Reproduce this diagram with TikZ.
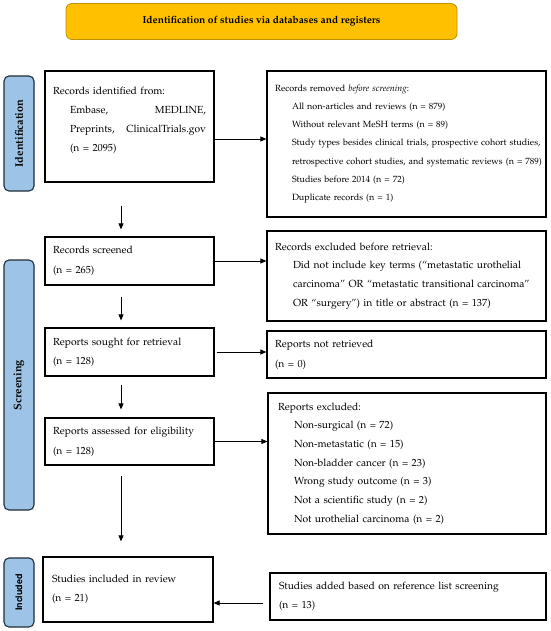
\documentclass[tikz,border=0pt]{standalone}
\usepackage[T1]{fontenc}
\usepackage{mathpazo}
\usepackage[scaled=0.92]{helvet}
\usetikzlibrary{arrows.meta}
\definecolor{bannerfill}{HTML}{FFC000}
\definecolor{bannerdraw}{HTML}{BF9000}
\definecolor{phasefill}{HTML}{9DC3E6}
\definecolor{phasedraw}{HTML}{1F2D3A}
\newcommand\ind[1]{\hspace*{17pt}\mbox{#1}}
\tikzset{
  box/.style={draw=black, line width=1.2pt, inner xsep=8pt, inner ysep=0pt, align=left,
    font=\fontsize{10.3}{19}\selectfont},
  phase/.style={draw=phasedraw, fill=phasefill, line width=1.1pt, rounded corners=5pt,
    inner sep=0pt, rotate=90, minimum height=30pt, font=\fontsize{11}{12}\selectfont\bfseries},
  banner/.style={draw=bannerdraw, fill=bannerfill, line width=0.8pt, rounded corners=6pt,
    minimum width=391pt, minimum height=36pt, inner sep=0pt, font=\fontsize{10.2}{12}\selectfont\bfseries},
  arr/.style={-{Triangle[length=6pt,width=5pt]}, line width=0.7pt, draw=black},
}
\begin{document}
\begin{tikzpicture}[x=1pt,y=-1pt]
\useasboundingbox (0,0) rectangle (550,631);

\node[banner] (ban) at (261.5,21.5) {Identification of studies via databases and registers};

\node[phase, minimum width=115pt] (ph1) at (19,133.5) {Identification};
\node[phase, minimum width=250pt] (ph2) at (19,385) {Screening};
\node[phase, minimum width=69pt, font=\fontsize{9.8}{12}\selectfont\sffamily\bfseries] (ph3) at (19,592.5) {Included};

\node[box, text width=153pt, minimum height=111pt] (id) at (129.5,126.5)
  {Records identified from:\\
   \hspace*{17pt}\hbox to 136pt{Embase,\hfill MEDLINE,}\\
   \hspace*{17pt}\hbox to 136pt{Preprints,\hfill ClinicalTrials.gov}\\
   \hspace*{17pt}(n = 2095)\rule[-14pt]{0pt}{14pt}};

\node[box, text width=263pt, minimum height=146pt, font=\fontsize{9}{18.3}\selectfont] (rem) at (406.5,144)
  {Records removed \emph{before screening}:\\
   \ind{All non-articles and reviews (n = 879)}\\
   \ind{Without relevant MeSH terms (n = 89)}\\
   \ind{Study types besides clinical trials, prospective cohort studies,}\\
   \ind{retrospective cohort studies, and systematic reviews (n = 789)}\\
   \ind{Studies before 2014 (n = 72)}\\
   \ind{Duplicate records (n = 1)}};

\node[box, text width=153pt, minimum height=48pt, font=\fontsize{10.3}{20}\selectfont] (scr) at (129.5,261)
  {Records screened\\(n = 265)};

\node[box, text width=263pt, minimum height=90pt, font=\fontsize{10.3}{18.7}\selectfont] (exc) at (406.5,276)
  {Records excluded before retrieval:\\
   \hspace*{18pt}\hbox to 245pt{Did not include key terms (``metastatic urothelial}\\
   \hspace*{18pt}\hbox to 245pt{carcinoma'' OR ``metastatic transitional carcinoma''}\\
   \hspace*{18pt}OR ``surgery'') in title or abstract (n = 137)};

\node[box, text width=153pt, minimum height=48pt] (sou) at (129.5,352)
  {Reports sought for retrieval\\(n = 128)};

\node[box, text width=263pt, minimum height=47pt, font=\fontsize{10.3}{20}\selectfont] (nrt) at (406.5,354.5)
  {Reports not retrieved\\(n = 0)};

\node[box, text width=153pt, minimum height=47pt, font=\fontsize{10.3}{20}\selectfont] (ass) at (129.5,441.5)
  {Reports assessed for eligibility\\(n = 128)};

\node[box, inner xsep=10pt, text width=258pt, minimum height=141pt, font=\fontsize{10.3}{18.7}\selectfont] (rex) at (407,463.5)
  {Reports excluded:\\
   \hspace*{16pt}Non-surgical (n = 72)\\
   \hspace*{16pt}Non-metastatic (n = 15)\\
   \hspace*{16pt}Non-bladder cancer (n = 23)\\
   \hspace*{16pt}Wrong study outcome (n = 3)\\
   \hspace*{16pt}Not a scientific study (n = 2)\\
   \hspace*{16pt}Not urothelial carcinoma (n = 2)};

\node[box, inner xsep=9pt, text width=152pt, minimum height=65pt, font=\fontsize{10.3}{18.5}\selectfont] (inc) at (128,589.5)
  {Studies included in review\\(n = 21)};

\node[box, inner xsep=9pt, text width=258pt, minimum height=47pt] (add) at (408,596.5)
  {Studies added based on reference list screening\\(n = 13)};

% horizontal connectors
\draw[arr] ([yshift=-12.5pt]id.east) -- ([yshift=-12.5pt]id.east -| rem.west);
\draw[arr] (scr.east) -- (scr.east -| exc.west);
\draw[arr] ([xshift=2pt]sou.east) -- (sou.east -| nrt.west);
\draw[arr] (ass.east) -- (ass.east -| rex.west);
\draw[arr, shorten <=6pt] ([yshift=-6.5pt]add.west) -- ([yshift=-6.5pt]add.west -| inc.east);

% vertical connectors
\draw[arr, shorten <=23pt, shorten >=7pt] ([xshift=-8.5pt]id.south) -- ([xshift=-8.5pt]id.south |- scr.north);
\draw[arr, shorten <=11pt, shorten >=7pt] ([xshift=-8.5pt]scr.south) -- ([xshift=-8.5pt]scr.south |- sou.north);
\draw[arr, shorten <=8pt, shorten >=8pt] ([xshift=-8.5pt]sou.south) -- ([xshift=-8.5pt]sou.south |- ass.north);
\draw[arr, shorten <=10pt, shorten >=15pt] ([xshift=-8.5pt]ass.south) -- ([xshift=-8.5pt]ass.south |- inc.north);
\end{tikzpicture}
\end{document}
